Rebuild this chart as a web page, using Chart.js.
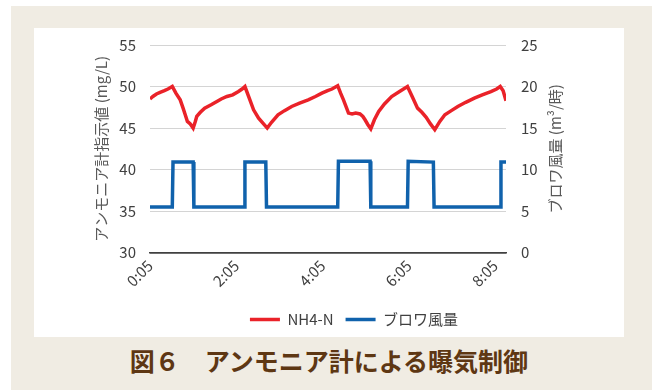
<!DOCTYPE html>
<html lang="ja">
<head>
<meta charset="utf-8">
<title>図６ アンモニア計による曝気制御</title>
<script src="https://cdn.jsdelivr.net/npm/chart.js@4.4.1/dist/chart.umd.min.js"></script>
<style>
  html, body { margin: 0; padding: 0; background: #fff; }
  body { width: 652px; height: 390px; position: relative; overflow: hidden; font-family: "Noto Sans CJK JP", sans-serif; }
  .frame { position: absolute; left: 11px; top: 6px; width: 641px; height: 384px; background: #f0ece3; }
  .panel { position: absolute; left: 34px; top: 28px; width: 590px; height: 309px; background: #fff; }
  .caption { position: absolute; left: 34px; width: 590px; top: 345px; text-align: center; font-size: 25px; font-weight: bold; color: #5e3713; line-height: 30px; }
</style>
</head>
<body>
<div class="frame"></div>
<div class="panel"><canvas id="chart" width="590" height="309"></canvas></div>
<div class="caption">図６　アンモニア計による曝気制御</div>
<script>
// 経過時間（分）とアンモニア計指示値 (mg/L)
const nh4Minutes = [5, 9, 14, 19, 25, 30, 36, 41, 47, 51, 54, 57, 61, 65, 68, 70, 75, 81, 90, 98, 104, 112, 120, 128, 133, 137,
  143, 149, 156, 162, 168, 174, 183, 192, 202, 213, 225, 235, 244, 252, 258, 266,
  270, 274, 278, 281, 286, 291, 297, 301, 304, 308, 312, 317, 323, 331, 341, 352, 363,
  370, 377, 383, 389, 395, 401, 408, 415, 424, 433, 444, 456, 467, 479, 487, 492, 496, 500];
const nh4Values = [48.5, 48.8, 49.1, 49.3, 49.5, 49.7, 50.0, 49.2, 48.4, 47.4, 46.6, 45.8, 45.5, 45.0, 45.8, 46.4, 46.9, 47.4, 47.8, 48.2, 48.5, 48.8, 49.0, 49.4, 49.7, 50.0,
  48.6, 47.2, 46.2, 45.6, 45.0, 45.7, 46.6, 47.1, 47.6, 48.0, 48.4, 48.8, 49.2, 49.5, 49.7, 50.1,
  49.2, 48.4, 47.5, 46.8, 46.7, 46.8, 46.7, 46.4, 46.0, 45.4, 44.9, 46.0, 47.0, 47.9, 48.8, 49.4, 50.0,
  48.7, 47.4, 46.9, 46.3, 45.5, 44.8, 45.8, 46.6, 47.1, 47.6, 48.1, 48.6, 49.0, 49.4, 49.7, 50.0, 49.5, 48.3];

// ブロワ風量 (m3/時)
const blowerMinutes = [5, 36, 37, 65, 66, 136, 137, 166, 167, 266, 267, 311, 312, 363, 364, 399, 400, 492, 493, 500];
const blowerValues = [5.5, 5.5, 10.9, 10.9, 5.5, 5.5, 10.9, 10.9, 5.5, 5.5, 11.0, 11.0, 5.5, 5.5, 11.0, 10.9, 5.5, 5.5, 10.9, 10.9];

const xTickMinutes = [5, 125, 245, 365, 485];
const timeRange = [5, 500];
const nh4Range = [30, 55];
const blowerRange = [0, 25];

const tickFont = { family: '"Noto Sans CJK JP", sans-serif', size: 15 };
const tickColor = '#404040';

function toPoints(xs, ys) {
  return xs.map((x, i) => ({ x: x, y: ys[i] }));
}

function formatTime(min) {
  const h = Math.floor(min / 60);
  const m = min % 60;
  return h + ':' + String(m).padStart(2, '0');
}

// 右軸タイトル（下から上へ読む向き）
const rightTitle = {
  id: 'rightTitle',
  afterDraw(chart) {
    const s = chart.scales.y1;
    const area = chart.chartArea;
    const ctx = chart.ctx;
    ctx.save();
    ctx.translate(s.left + 49, (area.top + area.bottom) / 2);
    ctx.rotate(-Math.PI / 2);
    ctx.font = '15px "Noto Sans CJK JP", sans-serif';
    ctx.fillStyle = '#595959';
    ctx.textAlign = 'center';
    ctx.textBaseline = 'middle';
    ctx.fillText('ブロワ風量 (m³/時)', 0, 0);
    ctx.restore();
  }
};

new Chart(document.getElementById('chart'), {
  type: 'line',
  data: {
    datasets: [
      {
        label: 'NH4-N',
        data: toPoints(nh4Minutes, nh4Values),
        borderColor: '#ea2229',
        backgroundColor: '#ea2229',
        borderWidth: 3.5,
        pointRadius: 0,
        tension: 0,
        yAxisID: 'y'
      },
      {
        label: 'ブロワ風量',
        data: toPoints(blowerMinutes, blowerValues),
        borderColor: '#1062ac',
        backgroundColor: '#1062ac',
        borderWidth: 3.5,
        pointRadius: 0,
        tension: 0,
        yAxisID: 'y1'
      }
    ]
  },
  options: {
    responsive: false,
    animation: false,
    devicePixelRatio: 1,
    layout: { padding: { left: 50, right: 0, top: 17, bottom: 0 } },
    plugins: {
      legend: {
        position: 'bottom',
        labels: {
          usePointStyle: true,
          pointStyle: 'line',
          pointStyleWidth: 30,
          boxHeight: 3,
          color: tickColor,
          font: tickFont,
          padding: 12
        }
      },
      tooltip: { enabled: false }
    },
    scales: {
      x: {
        type: 'linear',
        min: timeRange[0],
        max: timeRange[1],
        afterBuildTicks: scale => {
          scale.ticks = xTickMinutes.map(v => ({ value: v }));
        },
        afterFit: scale => { scale.height += 6; },
        ticks: {
          callback: v => formatTime(v),
          minRotation: 45,
          maxRotation: 45,
          padding: 4,
          color: tickColor,
          font: tickFont
        },
        grid: { display: false, drawTicks: false },
        border: { display: true, color: '#404040', width: 1.5 }
      },
      y: {
        position: 'left',
        min: nh4Range[0],
        max: nh4Range[1],
        // 目盛り線の長さで数値ラベルとの間隔をとる（線自体は透明）
        ticks: { stepSize: 5, padding: 0, color: tickColor, font: tickFont },
        grid: {
          drawTicks: true,
          tickLength: 14,
          tickColor: 'rgba(0,0,0,0)',
          color: ctx => ctx.tick && ctx.tick.value === nh4Range[0] ? '#404040' : '#d4d4d4',
          lineWidth: ctx => ctx.tick && ctx.tick.value === nh4Range[0] ? 1.5 : 1
        },
        border: { display: false },
        title: {
          display: true,
          text: 'アンモニア計指示値 (mg/L)',
          color: '#595959',
          font: tickFont,
          padding: { top: 8, bottom: 0 }
        },
        afterFit: scale => { scale.width = 66; }
      },
      y1: {
        position: 'right',
        min: blowerRange[0],
        max: blowerRange[1],
        ticks: { stepSize: 5, padding: 0, color: tickColor, font: tickFont },
        grid: { display: false, drawTicks: true, tickLength: 15 },
        border: { display: false },
        afterFit: scale => { scale.width = 118; }
      }
    }
  },
  plugins: [rightTitle]
});
</script>
</body>
</html>
